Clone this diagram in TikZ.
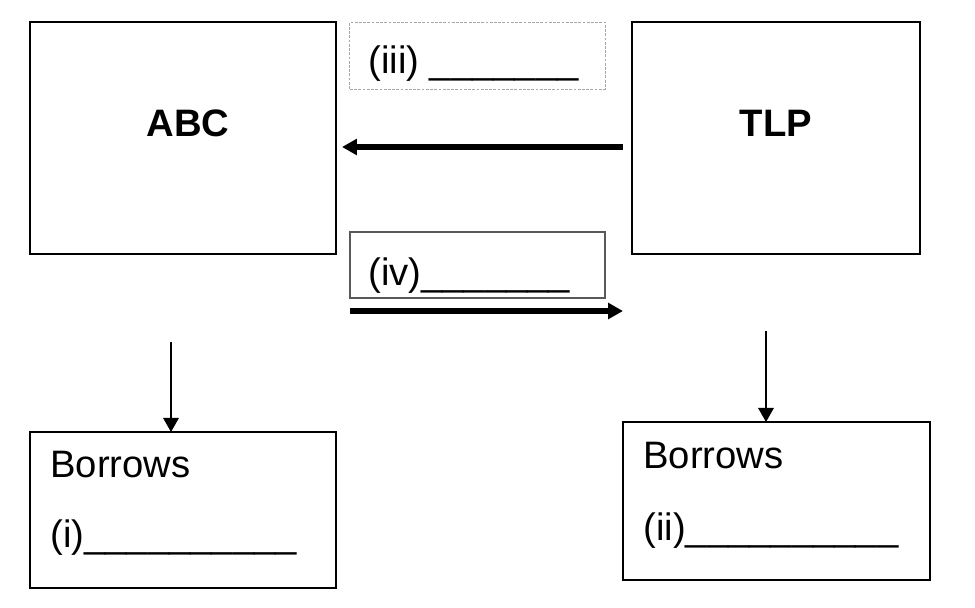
\documentclass[tikz,border=0pt]{standalone}
\usepackage{fontspec}
\setmainfont{Liberation Sans}
\usepackage{xcolor}
\usetikzlibrary{positioning,arrows.meta,calc}
\definecolor{cLine}{HTML}{000000}
\definecolor{cDash}{HTML}{A6A6A6}
\definecolor{cGrey}{HTML}{595959}
\tikzset{
  party/.style={draw=cLine,line width=1.4pt,inner sep=0pt,outer sep=0pt},
  flowbox/.style={draw=cGrey,line width=1pt,inner sep=0pt,outer sep=0pt},
  blankbox/.style={draw=cDash,line width=0.7pt,dash pattern=on 2pt off 1pt,inner sep=0pt,outer sep=0pt},
  txt/.style={inner sep=0pt,font=\fontsize{27.2}{32}\selectfont},
  btxt/.style={inner sep=0pt,font=\fontsize{27.2}{32}\selectfont\bfseries},
  fat/.style={-{Triangle[length=10.5pt,width=11pt]},line width=4.3pt},
  thin/.style={-{Triangle[length=10pt,width=11pt]},line width=1.4pt},
}
\begin{document}
\begin{tikzpicture}[x=0.025cm,y=-0.025cm]
  \useasboundingbox (0,0) rectangle (975,607);

  % the two parties
  \node[party,minimum width=7.65cm,minimum height=5.8cm] (abc) at (183,138) {};
  \node[party,minimum width=7.2cm,minimum height=5.8cm] (tlp) at (776,138) {};
  \node[btxt,anchor=base] (abcT) at (188,136) {ABC};
  \node[btxt,anchor=base] (tlpT) at (776,136) {TLP};

  % flows between them
  \node[blankbox,minimum width=6.375cm,minimum height=1.675cm] (iii) at (477.5,55.5) {};
  \node[txt,anchor=base west] (iiiT) at (368,73) {(iii) \_\_\_\_\_\_\_};
  \node[flowbox,minimum width=6.375cm,minimum height=1.65cm] (iv) at (477.5,265) {};
  \node[txt,anchor=base west] (ivT) at (368,285) {(iv)\_\_\_\_\_\_\_};

  \coordinate (outL) at (350,311);
  \coordinate (outR) at (623,311);
  \draw[fat,shorten <=6.4pt] (tlp.west |- 0,147) -- ($(abc.east |- 0,147)+(6,0)$);
  \draw[fat] (outL) -- (outR);

  % borrowing
  \node[party,minimum width=7.65cm,minimum height=3.9cm] (bi) at (183,510) {};
  \node[txt,anchor=base west] (biA) at (50,477) {Borrows};
  \node[txt,anchor=base west] (biB) at (50,547) {(i)\_\_\_\_\_\_\_\_\_\_};
  \node[party,minimum width=7.675cm,minimum height=3.95cm] (bii) at (776.5,501) {};
  \node[txt,anchor=base west] (biiA) at (643,468) {Borrows};
  \node[txt,anchor=base west] (biiB) at (643,540) {(ii)\_\_\_\_\_\_\_\_\_\_};

  \coordinate (dnL) at (171,342);
  \coordinate (dnR) at (766,331);
  \draw[thin] (dnL) -- (dnL |- bi.north);
  \draw[thin] (dnR) -- (dnR |- bii.north);
\end{tikzpicture}
\end{document}
